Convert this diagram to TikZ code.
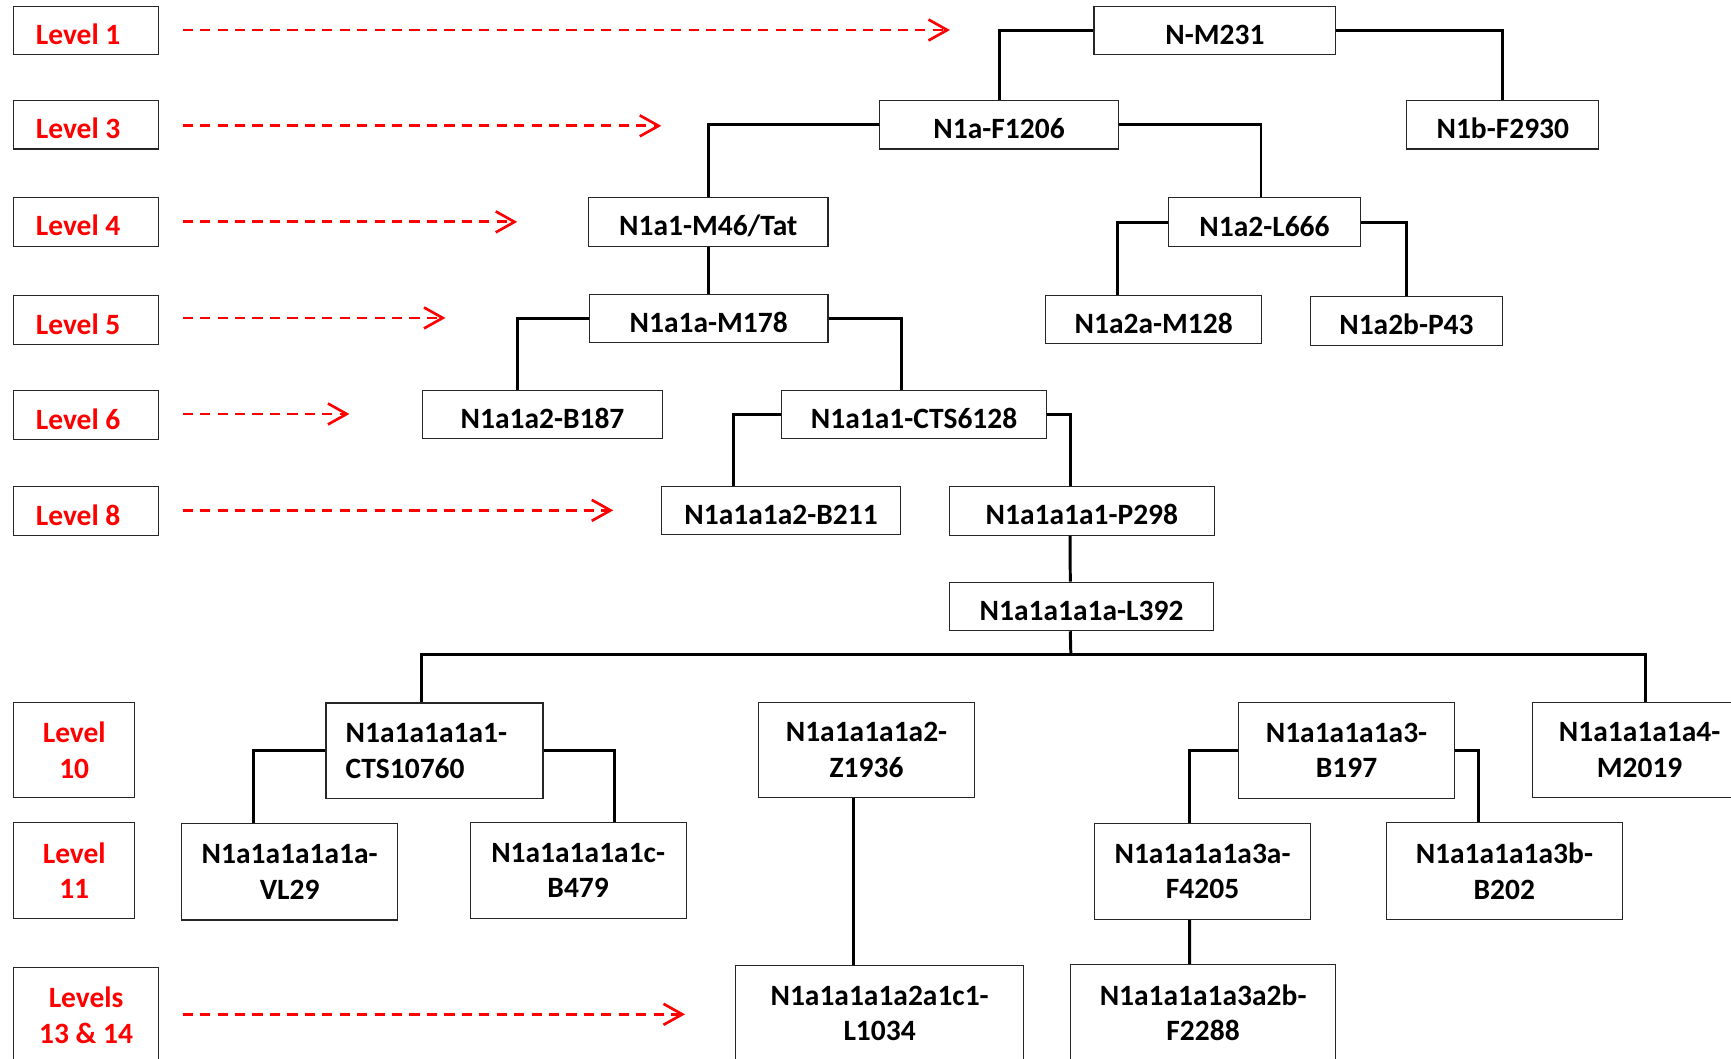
\documentclass[tikz,border=0pt]{standalone}
\usepackage{fontspec}
\setmainfont{Carlito}
\usetikzlibrary{arrows.meta,calc}
\begin{document}
\begin{tikzpicture}[x=0.5pt,y=-0.5pt,
  every node/.style={font=\fontsize{13.35pt}{16.1pt}\selectfont\bfseries},
  box/.style={draw=black!85, line width=0.5pt, inner sep=0pt, align=center, fill=white},
  sz/.style 2 args={minimum width=#1*0.5pt, minimum height=#2*0.5pt},
  one/.style={text height=12.6pt, text depth=0pt},
  lvl/.style={box, text=red},
  lvlleft/.style={lvl, one, align=flush left, inner xsep=10pt, text width=45.5pt},
  link/.style={line width=1.35pt, black},
  guide/.style={red, line width=1.3pt, dash pattern=on 4.6pt off 3.3pt,
    -{Straight Barb[length=8.5pt,width=9.5pt,line width=1.2pt]}},
]
\useasboundingbox (0,0) rectangle (1568,959);
\clip (0,0) rectangle (1568,959);

% level labels
\node[lvlleft,sz={131}{44}] (lv1)  at (78,27.7)  {Level 1};
\node[lvlleft,sz={131}{44}] (lv3)  at (78,113)   {Level 3};
\node[lvlleft,sz={131}{44}] (lv4)  at (78,201)   {Level 4};
\node[lvlleft,sz={131}{44}] (lv5)  at (78,290)   {Level 5};
\node[lvlleft,sz={131}{44}] (lv6)  at (78,376)   {Level 6};
\node[lvlleft,sz={131}{44}] (lv8)  at (78,463)   {Level 8};
\node[lvl,sz={109.5}{86}]   (lv10) at (67.25,679.5) {Level\\10};
\node[lvl,sz={109.5}{87}]   (lv11) at (67.25,788.5) {Level\\11};
\node[lvl,sz={131}{87}]     (lv13) at (78,919.5) {Levels\\13 \& 14};

% level guides
\draw[guide] ($(lv1.east)+(21.5,-0.5)$) -- ++(695,0);
\draw[guide] ($(lv3.east)+(21.5,1)$) -- ++(433.5,0);
\draw[guide] ($(lv4.east)+(21.5,0)$) -- ++(303,0);
\draw[guide] ($(lv5.east)+(21.5,-2)$) -- ++(238,0);
\draw[guide] ($(lv6.east)+(21.5,-1)$) -- ++(151,0);
\draw[guide] ($(lv8.east)+(21.5,-0.7)$) -- ++(390,0);
\draw[guide] ($(lv13.east)+(21.5,-0.7)$) -- ++(455,0);

% tree nodes
\node[box,one,sz={219}{43}]   (nm231)  at (1100.5,27.5) {N-M231};
\node[box,one,sz={174}{44}]   (n1b)    at (1361.3,113)  {N1b-F2930};
\node[box,one,sz={217}{44}]   (n1a)    at (905,113)     {N1a-F1206};
\node[box,one,sz={217}{44}]   (n1a1)   at (641.5,201)   {N1a1-M46/Tat};
\node[box,one,sz={173.3}{44}] (n1a2)   at (1145.4,201.2) {N1a2-L666};
\node[box,one,sz={195.4}{43}] (n1a2a)  at (1045,289.5)  {N1a2a-M128};
\node[box,one,sz={173.3}{44}] (n1a2b)  at (1274,290.6)  {N1a2b-P43};
\node[box,one,sz={216}{43}]   (n1a1a)  at (642,288.5)   {N1a1a-M178};
\node[box,one,sz={217.4}{44}] (b187)   at (491.4,375.4) {N1a1a2-B187};
\node[box,one,sz={239.5}{44}] (cts6128) at (828,375.4)  {N1a1a1-CTS6128};
\node[box,one,sz={217}{44}]   (b211)   at (707.5,462.3) {N1a1a1a2-B211};
\node[box,one,sz={240}{44}]   (p298)   at (980,462.9)   {N1a1a1a1-P298};
\node[box,one,sz={239.6}{44}] (l392)   at (979.7,549.3) {N1a1a1a1a-L392};

\node[box,sz={196.6}{86.6},align=flush left,inner xsep=8.85pt,text width=80.45pt]
                              (cts10760) at (393.6,680.1) {N1a1a1a1a1-\\CTS10760};
\node[box,sz={196}{86}]       (z1936)  at (784.9,679.5) {N1a1a1a1a2-\\Z1936};
\node[box,sz={196.3}{87}]     (b197)   at (1219.7,679.8) {N1a1a1a1a3-\\B197};
\node[box,sz={193.6}{86.5}]   (m2019)  at (1485.2,679.3) {N1a1a1a1a4-\\M2019};
\node[box,sz={196.1}{87.3}]   (vl29)   at (262.4,789.7) {N1a1a1a1a1a-\\VL29};
\node[box,sz={195.5}{87.2}]   (b479)   at (523.7,788.5) {N1a1a1a1a1c-\\B479};
\node[box,sz={195.8}{86.6}]   (f4205)  at (1089.3,789.4) {N1a1a1a1a3a-\\F4205};
\node[box,sz={213.6}{87.5}]   (b202)   at (1362.7,789)  {N1a1a1a1a3b-\\B202};
\node[box,sz={261.4}{87}]     (l1034)  at (796.8,918)   {N1a1a1a1a2a1c1-\\L1034};
\node[box,sz={240}{87}]       (f2288)  at (1089.8,917.2) {N1a1a1a1a3a2b-\\F2288};

% connectors
\coordinate (bus) at (970,592.7);
\draw[link] (nm231.west) -| (n1a.north);
\draw[link] (nm231.east) -| (n1b.north);
\draw[link] (n1a.west) -| (n1a1.north);
\draw[link] (n1a.east) -| ($(n1a2.north west)+(84,0)$);
\draw[link] (n1a1.south) -- (n1a1.south |- n1a1a.north);
\draw[link] (n1a2.west) -| ($(n1a2a.north west)+(65.7,0)$);
\draw[link] (n1a2.east) -| (n1a2b.north);
\draw[link] (n1a1a.west) -| ($(b187.north west)+(86.3,0)$);
\draw[link] (n1a1a.east) -| ($(cts6128.north west)+(108.8,0)$);
\draw[link] (cts6128.west) -| ($(b211.north west)+(66,0)$);
\draw[link] (cts6128.east) -| ($(p298.north west)+(109.8,0)$);
\draw[link] ($(p298.south west)+(109.8,0)$) -- ($(l392.north west)+(110.1,0)$);
\draw[link] ($(l392.south west)+(110.1,0)$) -- (bus);
\draw[link] ($(cts10760.north west)+(86.7,0)$) |- (bus) -| ($(m2019.north west)+(102.6,0)$);
\draw[link] ($(z1936.north west)+(87.1,0)$) -- ($(z1936.north west)+(87.1,0)$ |- bus);
\draw[link] ($(b197.north west)+(88.5,0)$) -- ($(b197.north west)+(88.5,0)$ |- bus);
\draw[link] (cts10760.west) -| ($(vl29.north west)+(66.1,0)$);
\draw[link] (cts10760.east) -| ($(b479.north west)+(131,0)$);
\draw[link] (b197.west) -| ($(f4205.north west)+(86.9,0)$);
\draw[link] (b197.east) -| ($(b202.north west)+(84,0)$);
\draw[link] ($(z1936.south west)+(87.1,0)$) -- ($(l1034.north west)+(107.9,0)$);
\draw[link] ($(f4205.south west)+(86.6,0)$) -- ($(f2288.north west)+(108.2,0)$);
\end{tikzpicture}
\end{document}
